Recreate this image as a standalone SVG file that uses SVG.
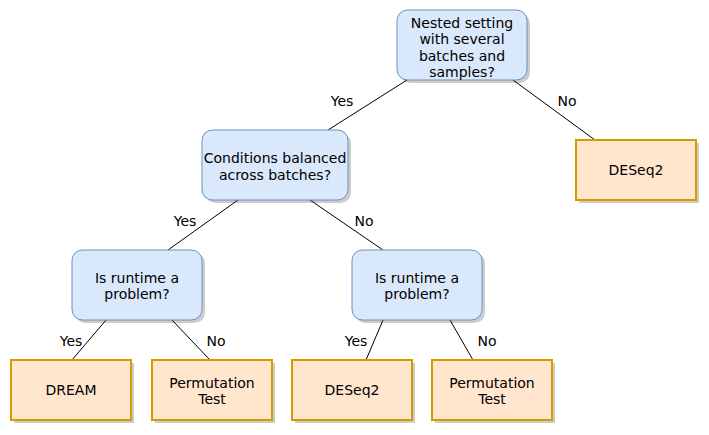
<svg xmlns="http://www.w3.org/2000/svg" width="709" height="435" viewBox="0 0 709 435">
<style>
.q{fill:#dae8fc;stroke:#6c8ebf;stroke-width:1}
.a{fill:#ffe6cc;stroke:#d79b00;stroke-width:2}
.sh{fill:#000;fill-opacity:0.2;stroke:none}
text{font-family:"DejaVu Sans",Verdana,sans-serif;font-size:14px;fill:#000;text-anchor:middle}
.e{stroke:#000;stroke-width:1;fill:none}
</style>
<rect width="709" height="435" fill="#fff"/>
<g id="connectors">
<line class="e" x1="407" y1="80" x2="328" y2="130"/>
<line class="e" x1="513" y1="80" x2="595" y2="140"/>
<line class="e" x1="238" y1="200" x2="168" y2="250"/>
<line class="e" x1="310" y1="200" x2="383" y2="250"/>
<line class="e" x1="106" y1="320" x2="72" y2="360"/>
<line class="e" x1="172" y1="320" x2="210" y2="360"/>
<line class="e" x1="383" y1="320" x2="366" y2="360"/>
<line class="e" x1="450" y1="320" x2="473" y2="360"/>
<text x="342" y="106">Yes</text>
<text x="567" y="106">No</text>
<text x="185" y="226">Yes</text>
<text x="364" y="226">No</text>
<text x="71" y="346">Yes</text>
<text x="216" y="346">No</text>
<text x="356" y="346">Yes</text>
<text x="487" y="346">No</text>
</g>
<g id="n1">
<rect class="sh" x="400" y="13" width="130" height="70" rx="10.5"/>
<rect class="q" x="397" y="10" width="130" height="70" rx="10.5"/>
<text x="462" y="28">Nested setting</text>
<text x="462" y="44.3">with several</text>
<text x="462" y="60.6">batches and</text>
<text x="462" y="77">samples?</text>
</g>
<g id="n2">
<rect class="sh" x="579" y="143" width="120" height="60"/>
<rect class="a" x="576" y="140" width="120" height="60"/>
<text x="636" y="175">DESeq2</text>
</g>
<g id="n3">
<rect class="sh" x="205" y="133" width="146" height="70" rx="10.5"/>
<rect class="q" x="202" y="130" width="146" height="70" rx="10.5"/>
<text x="275" y="163">Conditions balanced</text>
<text x="275" y="180">across batches?</text>
</g>
<g id="n4">
<rect class="sh" x="75" y="253" width="130" height="70" rx="10.5"/>
<rect class="q" x="72" y="250" width="130" height="70" rx="10.5"/>
<text x="137" y="283">Is runtime a</text>
<text x="137" y="299">problem?</text>
</g>
<g id="n5">
<rect class="sh" x="355" y="253" width="130" height="70" rx="10.5"/>
<rect class="q" x="352" y="250" width="130" height="70" rx="10.5"/>
<text x="417" y="283">Is runtime a</text>
<text x="417" y="299">problem?</text>
</g>
<g id="n6">
<rect class="sh" x="14" y="363" width="120" height="60"/>
<rect class="a" x="11" y="360" width="120" height="60"/>
<text x="71" y="395">DREAM</text>
</g>
<g id="n7">
<rect class="sh" x="155" y="363" width="120" height="60"/>
<rect class="a" x="152" y="360" width="120" height="60"/>
<text x="212" y="388">Permutation</text>
<text x="212" y="404">Test</text>
</g>
<g id="n8">
<rect class="sh" x="295" y="363" width="120" height="60"/>
<rect class="a" x="292" y="360" width="120" height="60"/>
<text x="352" y="395">DESeq2</text>
</g>
<g id="n9">
<rect class="sh" x="435" y="363" width="120" height="60"/>
<rect class="a" x="432" y="360" width="120" height="60"/>
<text x="492" y="388">Permutation</text>
<text x="492" y="404">Test</text>
</g>
</svg>
